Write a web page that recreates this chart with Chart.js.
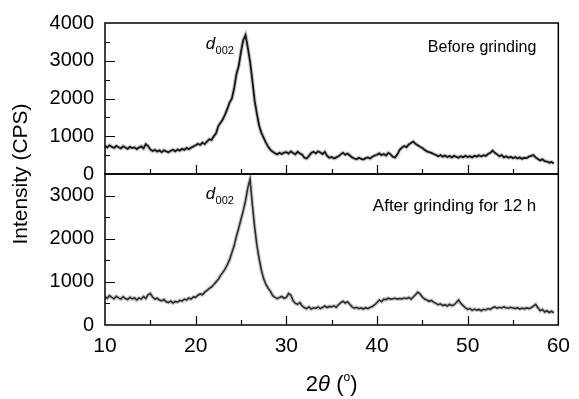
<!DOCTYPE html>
<html>
<head>
<meta charset="utf-8">
<script src="https://cdn.jsdelivr.net/npm/chart.js@4.4.0/dist/chart.umd.min.js"></script>
<style>
  html, body { margin: 0; padding: 0; background: #fff; }
  #wrap { width: 579px; height: 399px; }
</style>
</head>
<body>
<div id="wrap"><canvas id="xrdChart" width="579" height="399"></canvas></div>
<script>
// 2theta grid (degrees), 0.25 step
const twoTheta = [
  10, 10.25, 10.5, 10.75, 11, 11.25, 11.5, 11.75, 12, 12.25, 12.5, 12.75, 13, 13.25, 13.5, 13.75, 14, 14.25, 14.5, 14.75,
  15, 15.25, 15.5, 15.75, 16, 16.25, 16.5, 16.75, 17, 17.25, 17.5, 17.75, 18, 18.25, 18.5, 18.75, 19, 19.25, 19.5, 19.75,
  20, 20.25, 20.5, 20.75, 21, 21.25, 21.5, 21.75, 22, 22.25, 22.5, 22.75, 23, 23.25, 23.5, 23.75, 24, 24.25, 24.5, 24.75,
  25, 25.25, 25.5, 25.75, 26, 26.25, 26.5, 26.75, 27, 27.25, 27.5, 27.75, 28, 28.25, 28.5, 28.75, 29, 29.25, 29.5, 29.75,
  30, 30.25, 30.5, 30.75, 31, 31.25, 31.5, 31.75, 32, 32.25, 32.5, 32.75, 33, 33.25, 33.5, 33.75, 34, 34.25, 34.5, 34.75,
  35, 35.25, 35.5, 35.75, 36, 36.25, 36.5, 36.75, 37, 37.25, 37.5, 37.75, 38, 38.25, 38.5, 38.75, 39, 39.25, 39.5, 39.75,
  40, 40.25, 40.5, 40.75, 41, 41.25, 41.5, 41.75, 42, 42.25, 42.5, 42.75, 43, 43.25, 43.5, 43.75, 44, 44.25, 44.5, 44.75,
  45, 45.25, 45.5, 45.75, 46, 46.25, 46.5, 46.75, 47, 47.25, 47.5, 47.75, 48, 48.25, 48.5, 48.75, 49, 49.25, 49.5, 49.75,
  50, 50.25, 50.5, 50.75, 51, 51.25, 51.5, 51.75, 52, 52.25, 52.5, 52.75, 53, 53.25, 53.5, 53.75, 54, 54.25, 54.5, 54.75,
  55, 55.25, 55.5, 55.75, 56, 56.25, 56.5, 56.75, 57, 57.25, 57.5, 57.75, 58, 58.25, 58.5, 58.75, 59, 59.25, 59.5
];

// intensity (CPS) before grinding
const beforeGrinding = [
  740, 705, 760, 720, 690, 745, 710, 680, 735, 700, 665, 720, 690, 705, 660, 700, 730, 680, 790, 740,
  650, 610, 640, 595, 625, 580, 630, 600, 575, 615, 640, 600, 650, 620, 665, 640, 690, 655, 700, 730,
  760, 800, 770, 830, 790, 860, 920, 900, 1000, 1080, 1270, 1360, 1450, 1580, 1730, 1900, 2000, 2280, 2650, 2860,
  3240, 3550, 3680, 3350, 2980, 2480, 1950, 1600, 1280, 1090, 960, 830, 720, 640, 590, 550, 520, 560, 530, 565,
  580, 540, 600, 555, 520, 590, 545, 510, 430, 410, 480, 560, 590, 545, 600, 570, 530, 585, 480, 430,
  450, 410, 440, 470, 520, 560, 510, 540, 490, 440, 410, 390, 430, 400, 385, 420, 440, 410, 460, 490,
  510, 545, 500, 530, 490, 560, 520, 455, 440, 520, 640, 700, 740, 710, 780, 820, 860, 800, 760, 720,
  690, 640, 600, 580, 560, 530, 505, 470, 500, 460, 490, 450, 475, 440, 480, 455, 430, 470, 445, 480,
  450, 470, 440, 485, 460, 495, 465, 500, 480, 530, 560, 620, 560, 520, 470, 500, 440, 470, 430, 455,
  420, 450, 410, 440, 400, 430, 420, 460, 480, 500, 440, 400, 360, 390, 340, 330, 300, 320, 280
];

// intensity (CPS) after grinding for 12 h
const afterGrinding = [
  650, 620, 680, 640, 610, 665, 630, 600, 655, 615, 590, 640, 605, 630, 580, 625, 600, 660, 615, 700,
  730, 650, 600, 620, 580, 560, 590, 540, 520, 555, 510, 545, 530, 570, 555, 600, 580, 625, 600, 650,
  640, 690, 720, 700, 760, 800, 850, 880, 940, 1000, 1060, 1150, 1220, 1300, 1400, 1520, 1680, 1840, 2060, 2250,
  2450, 2650, 2880, 3180, 3380, 2800, 2280, 1850, 1540, 1270, 1070, 940, 850, 780, 680, 640, 610, 640, 660, 620,
  640, 730, 690, 560, 500, 480, 520, 440, 400, 380, 420, 370, 400, 385, 420, 380, 410, 440, 405, 430,
  420, 445, 410, 470, 520, 550, 510, 540, 480, 420, 390, 410, 380, 395, 370, 400, 380, 410, 430, 470,
  520, 580, 540, 600, 590, 620, 600, 610, 620, 600, 615, 605, 625, 610, 640, 600, 650, 700, 760, 720,
  650, 600, 580, 550, 570, 530, 500, 470, 490, 450, 470, 440, 480, 450, 470, 520, 580, 500, 450, 400,
  360, 380, 340, 370, 345, 360, 330, 365, 350, 380, 360, 400, 420, 390, 410, 395, 420, 400, 390, 410,
  395, 380, 400, 370, 390, 375, 395, 380, 400, 440, 480, 400, 330, 360, 300, 330, 290, 320, 280
];

// tick labels
const xTickValues = [10, 20, 30, 40, 50, 60];
const topYTickValues = [0, 1000, 2000, 3000, 4000];
const bottomYTickValues = [0, 1000, 2000, 3000];

const FONT = "'Liberation Sans', Arial, sans-serif";

// box frame + inward ticks for both panels
const panelFrame = {
    id: 'panelFrame',
    afterDatasetsDraw(chart) {
        const { ctx, chartArea, scales } = chart;
        const xs = scales.x;
        ctx.save();
        ctx.strokeStyle = '#000';
        [scales.yTop, scales.yBottom].forEach(ys => {
            ctx.lineWidth = 1.5;
            ctx.strokeRect(chartArea.left, ys.top, chartArea.right - chartArea.left, ys.bottom - ys.top);
            ctx.lineWidth = 1.2;
            ctx.beginPath();
            for (let v = 15; v < 60; v += 5) {
                const px = Math.round(xs.getPixelForValue(v)) + 0.5;
                const len = v % 10 === 0 ? 9 : 5;
                ctx.moveTo(px, ys.bottom);
                ctx.lineTo(px, ys.bottom - len);
            }
            for (let v = 500; v < ys.max; v += 500) {
                const py = Math.round(ys.getPixelForValue(v)) + 0.5;
                const len = v % 1000 === 0 ? 10 : 5;
                ctx.moveTo(chartArea.left, py);
                ctx.lineTo(chartArea.left + len, py);
            }
            ctx.stroke();
        });
        ctx.restore();
    }
};

// annotations and axis titles
const annotations = {
    id: 'annotations',
    afterDraw(chart) {
        const { ctx, chartArea, scales } = chart;
        const xs = scales.x;
        ctx.save();
        ctx.fillStyle = '#000';
        ctx.textBaseline = 'alphabetic';

        // d002 labels
        const dLabel = (ys, v) => {
            const px = xs.getPixelForValue(21.1);
            const py = ys.getPixelForValue(v);
            ctx.textAlign = 'left';
            ctx.font = 'italic 17px ' + FONT;
            ctx.fillText('d', px, py);
            const w = ctx.measureText('d').width;
            ctx.font = '11px ' + FONT;
            ctx.fillText('002', px + w + 0.5, py + 5);
        };
        dLabel(scales.yTop, 3320);
        dLabel(scales.yBottom, 2910);

        // panel captions
        ctx.textAlign = 'right';
        ctx.font = '16px ' + FONT;
        ctx.fillText('Before grinding', chartArea.right - 22, scales.yTop.top + 29);
        ctx.font = '17px ' + FONT;
        ctx.fillText('After grinding for 12 h', chartArea.right - 22, scales.yBottom.top + 37);

        // y title
        ctx.save();
        ctx.translate(21, (chartArea.top + chartArea.bottom) / 2);
        ctx.rotate(-Math.PI / 2);
        ctx.textAlign = 'center';
        ctx.textBaseline = 'middle';
        ctx.font = '21px ' + FONT;
        ctx.fillText('Intensity (CPS)', 0, 0);
        ctx.restore();

        // x title: 2θ (°)
        const parts = [
            { t: '2', f: '22px ' + FONT, dy: 0 },
            { t: 'θ', f: 'italic 22px ' + FONT, dy: 0 },
            { t: ' (', f: '22px ' + FONT, dy: 0 },
            { t: 'o', f: '12px ' + FONT, dy: -10 },
            { t: ')', f: '22px ' + FONT, dy: 0 }
        ];
        let total = 0;
        parts.forEach(p => { ctx.font = p.f; p.w = ctx.measureText(p.t).width; total += p.w; });
        let cx = (chartArea.left + chartArea.right) / 2 - total / 2;
        const base = 391;
        ctx.textAlign = 'left';
        parts.forEach(p => {
            ctx.font = p.f;
            ctx.fillText(p.t, cx, base + p.dy);
            cx += p.w;
        });
        ctx.restore();
    }
};

const yTickStyle = {
    color: '#000',
    font: { family: FONT, size: 20 },
    padding: 11,
    autoSkip: false,
    callback: v => String(v)
};

new Chart(document.getElementById('xrdChart'), {
    type: 'line',
    data: {
        datasets: [{
            label: 'Before grinding',
            data: twoTheta.map((x, i) => ({ x: x, y: beforeGrinding[i] })),
            yAxisID: 'yTop',
            borderColor: '#151515',
            borderWidth: 1.8,
            pointRadius: 0,
            tension: 0
        }, {
            label: 'Before grinding (halo)',
            data: twoTheta.map((x, i) => ({ x: x, y: beforeGrinding[i] })),
            yAxisID: 'yTop',
            borderColor: 'rgba(0,0,0,0.22)',
            borderWidth: 4,
            pointRadius: 0,
            tension: 0
        }, {
            label: 'After grinding for 12 h',
            data: twoTheta.map((x, i) => ({ x: x, y: afterGrinding[i] })),
            yAxisID: 'yBottom',
            borderColor: '#2b2b2b',
            borderWidth: 1.6,
            pointRadius: 0,
            tension: 0
        }, {
            label: 'After grinding (halo)',
            data: twoTheta.map((x, i) => ({ x: x, y: afterGrinding[i] })),
            yAxisID: 'yBottom',
            borderColor: 'rgba(0,0,0,0.2)',
            borderWidth: 4,
            pointRadius: 0,
            tension: 0
        }]
    },
    options: {
        responsive: false,
        animation: false,
        devicePixelRatio: 1,
        layout: { padding: { top: 19, right: 13, left: 0, bottom: 0 } },
        plugins: {
            legend: { display: false },
            tooltip: { enabled: false }
        },
        scales: {
            x: {
                type: 'linear',
                min: 10,
                max: 60,
                afterBuildTicks: s => { s.ticks = xTickValues.map(v => ({ value: v })); },
                grid: { display: false, drawTicks: false },
                border: { display: false },
                ticks: { color: '#000', font: { family: FONT, size: 21 }, padding: 9, maxRotation: 0, autoSkip: false, callback: v => String(v) },
                afterFit: s => { s.height = 74; }
            },
            yBottom: {
                type: 'linear',
                position: 'left',
                stack: 'xrd',
                stackWeight: 1,
                min: 0,
                max: 3500,
                afterBuildTicks: s => { s.ticks = bottomYTickValues.map(v => ({ value: v })); },
                grid: { display: false, drawTicks: false },
                border: { display: false },
                ticks: yTickStyle,
                afterFit: s => { s.width = 105; }
            },
            yTop: {
                type: 'linear',
                position: 'left',
                stack: 'xrd',
                stackWeight: 1,
                min: 0,
                max: 4000,
                afterBuildTicks: s => { s.ticks = topYTickValues.map(v => ({ value: v })); },
                grid: { display: false, drawTicks: false },
                border: { display: false },
                ticks: yTickStyle,
                afterFit: s => { s.width = 105; }
            }
        }
    },
    plugins: [panelFrame, annotations]
});
</script>
</body>
</html>
